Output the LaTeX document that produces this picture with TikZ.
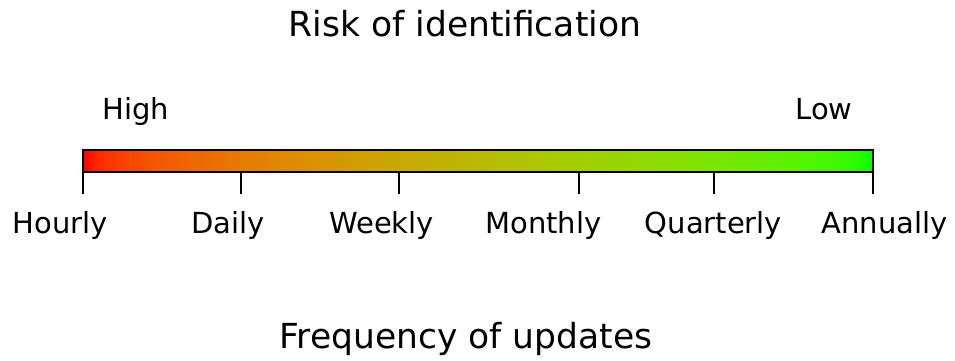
\documentclass[tikz,border=0pt]{standalone}
\usepackage{fontspec}
\setmainfont{DejaVu Sans}

% Red-to-green ramp, blended in linear light
\definecolor{rb00}{RGB}{255,0,0}
\definecolor{rb01}{RGB}{253,43,0}
\definecolor{rb02}{RGB}{249,65,0}
\definecolor{rb03}{RGB}{243,90,0}
\definecolor{rb04}{RGB}{230,123,0}
\definecolor{rb05}{RGB}{217,148,0}
\definecolor{rb06}{RGB}{202,168,0}
\definecolor{rb07}{RGB}{186,186,0}
\definecolor{rb08}{RGB}{168,202,0}
\definecolor{rb09}{RGB}{148,217,0}
\definecolor{rb10}{RGB}{123,230,0}
\definecolor{rb11}{RGB}{90,243,0}
\definecolor{rb12}{RGB}{65,249,0}
\definecolor{rb13}{RGB}{43,253,0}
\definecolor{rb14}{RGB}{0,255,0}
\pgfdeclarehorizontalshading{riskbar}{100bp}{%
  color(0bp)=(rb00); color(25bp)=(rb00); color(26bp)=(rb01);
  color(27.5bp)=(rb02); color(30bp)=(rb03); color(35bp)=(rb04);
  color(40bp)=(rb05); color(45bp)=(rb06); color(50bp)=(rb07);
  color(55bp)=(rb08); color(60bp)=(rb09); color(65bp)=(rb10);
  color(70bp)=(rb11); color(72.5bp)=(rb12); color(74bp)=(rb13);
  color(75bp)=(rb14); color(100bp)=(rb14)}

\tikzset{
  heading/.style={anchor=base, inner sep=0pt, font=\fontsize{34.5}{40}\selectfont},
  label/.style={anchor=base, inner sep=0pt, font=\fontsize{29}{34}\selectfont},
  tick/.style={line width=1.6pt, line cap=butt},
  bar/.style={shading=riskbar, draw=black, line width=1.6pt}
}

\begin{document}
\begin{tikzpicture}[x=1pt, y=-1pt]
  \useasboundingbox (0,0) rectangle (955,360);

  % titles
  \node[heading] (title) at (465,36) {Risk of identification};
  \node[heading] (axis) at (466,348) {Frequency of updates};

  % end labels of the scale
  \node[label] (high) at (136,119) {High};
  \node[label] (low) at (824,119) {Low};

  % the shaded bar
  \path[bar] (83,150) rectangle (873,172);

  % ticks under the bar
  \foreach \name/\x in {hourly/83, daily/241, weekly/399, monthly/579, quarterly/714, annually/873} {
    \coordinate (\name-top) at (\x,172);
    \coordinate (\name-end) at (\x,194);
    \draw[tick] (\name-top) -- (\name-end);
  }

  % frequency labels
  \node[label] (lhourly) at (60,233) {Hourly};
  \node[label] (ldaily) at (228,233) {Daily};
  \node[label] (lweekly) at (381.5,233) {Weekly};
  \node[label] (lmonthly) at (543.5,233) {Monthly};
  \node[label] (lquarterly) at (713.5,233) {Quarterly};
  \node[label] (lannually) at (884.5,233) {Annually};
\end{tikzpicture}
\end{document}
